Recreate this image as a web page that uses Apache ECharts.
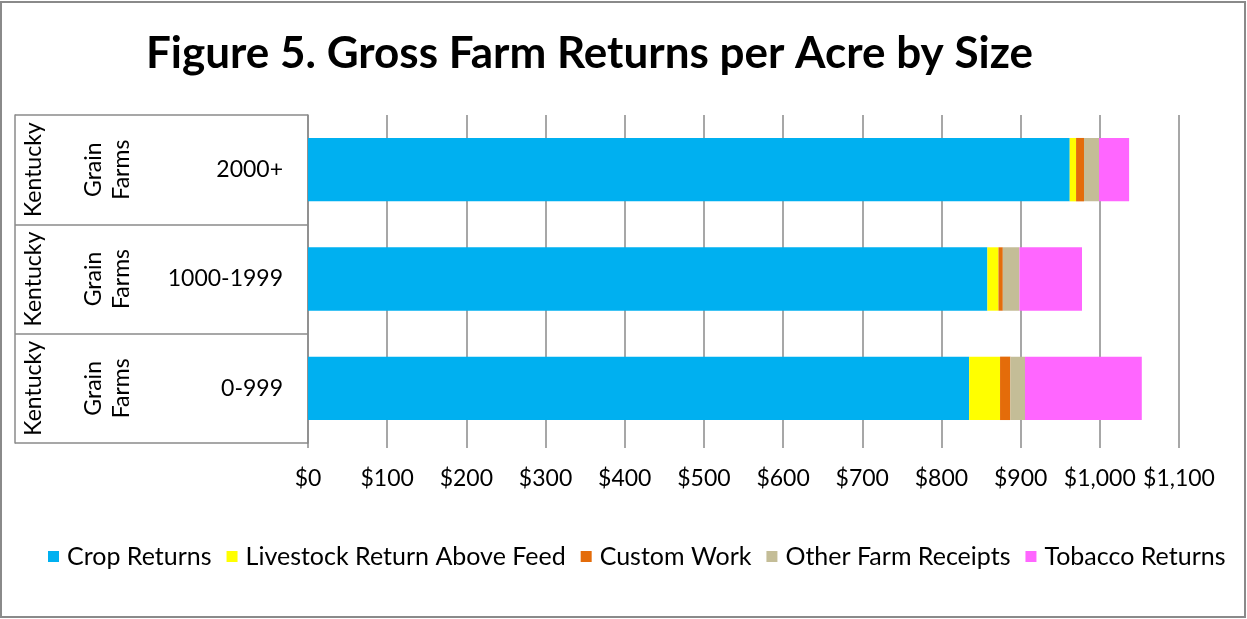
<!DOCTYPE html>
<html>
<head>
<meta charset="utf-8">
<script src="https://cdn.jsdelivr.net/npm/echarts@6/dist/echarts.min.js"></script>
<style>
  html, body { margin: 0; padding: 0; background: #fff; }
  #frame { position: absolute; left: 0; top: 1px; width: 1246px; height: 617px; box-sizing: border-box; border: 2px solid #8a8a8a; }
  #chart { position: absolute; left: 0; top: 0; width: 1247px; height: 619px; }
</style>
</head>
<body>
<div id="frame"></div>
<div id="chart"></div>
<script>
// Farm size groups, listed bottom to top
const sizeGroups = ['0-999', '1000-1999', '2000+'];
const farmType = ['Grain\nFarms', 'Grain\nFarms', 'Grain\nFarms'];
const stateName = ['Kentucky', 'Kentucky', 'Kentucky'];

// Gross returns per acre, dollars
const cropReturns = [835, 858, 962];
const livestockReturns = [39, 14, 8];
const customWork = [13, 5.5, 10];
const otherReceipts = [18.5, 21, 19];
const tobaccoReturns = [147.5, 79, 38];

const seriesNames = ['Crop Returns', 'Livestock Return Above Feed', 'Custom Work', 'Other Farm Receipts', 'Tobacco Returns'];
const seriesColors = ['#00B0F0', '#FFFF00', '#E46C0A', '#C4BD97', '#FF66FF'];
const seriesValues = [cropReturns, livestockReturns, customWork, otherReceipts, tobaccoReturns];

const FONT = 'Lato';
const GRID_GRAY = '#8a8a8a';
const LABEL_SIZE = 23;

const chart = echarts.init(document.getElementById('chart'), null, { renderer: 'canvas' });

const fmtDollar = v => '$' + v.toLocaleString('en-US');

chart.setOption({
  animation: false,
  title: {
    text: 'Figure 5. Gross Farm Returns per Acre by Size',
    left: 141,
    top: 27,
    textStyle: { fontFamily: FONT, fontWeight: 'bold', fontSize: 44, color: '#000' }
  },
  legend: {
    bottom: 45,
    left: 43,
    icon: 'rect',
    itemWidth: 11,
    itemHeight: 11,
    itemGap: 15,
    textStyle: { fontFamily: FONT, fontSize: 25, color: '#000', padding: [0, 0, 0, 3] },
    data: seriesNames
  },
  grid: { left: 308, right: 68, top: 115, bottom: 176, containLabel: false },
  xAxis: {
    type: 'value',
    min: 0,
    max: 1100,
    interval: 100,
    axisLine: { show: false },
    axisTick: { show: true, length: 5, lineStyle: { color: GRID_GRAY, width: 1.5 } },
    splitLine: { show: true, lineStyle: { color: GRID_GRAY, width: 1.5 } },
    axisLabel: { formatter: fmtDollar, fontFamily: FONT, fontSize: LABEL_SIZE, color: '#000', margin: 24 }
  },
  yAxis: [
    {
      type: 'category',
      data: sizeGroups,
      axisLine: { show: true, lineStyle: { color: GRID_GRAY, width: 1.5 } },
      axisTick: { show: true, length: 293, lineStyle: { color: GRID_GRAY, width: 1.5 } },
      axisLabel: { interval: 0, fontFamily: FONT, fontSize: LABEL_SIZE, color: '#000', margin: 25 }
    },
    {
      type: 'category',
      data: farmType,
      position: 'left',
      offset: 235,
      axisLine: { show: false },
      axisTick: { show: false },
      axisLabel: { interval: 0, inside: true, rotate: 90, margin: 7, lineHeight: 28, fontFamily: FONT, fontSize: LABEL_SIZE, color: '#000' }
    },
    {
      type: 'category',
      data: stateName,
      position: 'left',
      offset: 293,
      axisLine: { show: true, lineStyle: { color: GRID_GRAY, width: 1.5 } },
      axisTick: { show: false },
      axisLabel: { interval: 0, hideOverlap: false, inside: true, rotate: 90, margin: 7, fontFamily: FONT, fontSize: LABEL_SIZE, color: '#000' }
    }
  ],
  series: seriesNames.map((name, i) => ({
    name,
    type: 'bar',
    stack: 'returns',
    yAxisIndex: 0,
    barCategoryGap: '42%',
    itemStyle: { color: seriesColors[i] },
    data: seriesValues[i]
  }))
});
</script>
</body>
</html>
